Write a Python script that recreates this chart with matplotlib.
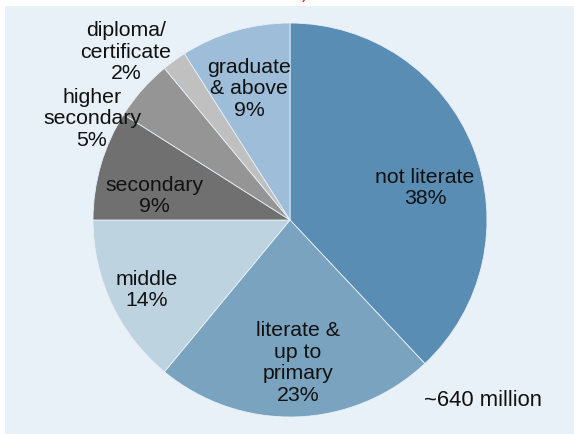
import matplotlib.pyplot as plt
from matplotlib.patches import Rectangle

plt.rcParams["font.family"] = ["Liberation Sans", "DejaVu Sans"]

# education levels, clockwise from 12 o'clock
labels = [
    "not literate",
    "literate &\nup to\nprimary",
    "middle",
    "secondary",
    "higher\nsecondary",
    "diploma/\ncertificate",
    "graduate\n& above",
]
shares = [38, 23, 14, 9, 5, 2, 9]
colors = ["#5a8db4", "#7aa3bf", "#bed3e0", "#707070", "#959595", "#c0c0c0", "#9dbdd8"]

# label centres in pixels (x, y from top)
label_px = [(425, 188), (298, 363), (147, 290), (154, 196), (92, 119), (126, 52), (249, 89)]

W, H = 574, 435
cx, cy, r = 290, 221, 197

fig = plt.figure(figsize=(W / 100, H / 100), dpi=100)
fig.patch.set_facecolor("white")
fig.patches.append(Rectangle((5 / W, 0), 1 - 5 / W, (H - 7) / H,
                             transform=fig.transFigure, facecolor="#e8f0f8",
                             edgecolor="none", zorder=-5))

ax = fig.add_axes([(cx - r) / W, (H - cy - r) / H, 2 * r / W, 2 * r / H])
ax.set_facecolor("none")
ax.pie(shares, colors=colors, startangle=90, counterclock=False, radius=1,
       wedgeprops=dict(edgecolor="#e8f0f8", linewidth=0.6))
ax.set_xlim(-1, 1)
ax.set_ylim(-1, 1)
ax.set_aspect("equal")
ax.axis("off")

for lab, val, (px, py) in zip(labels, shares, label_px):
    ax.text((px - cx) / r, (cy - py) / r, f"{lab}\n{val}%", ha="center", va="center",
            fontsize=15.3, linespacing=1.17, color="#111111")

fig.text(424 / W, (H - 401) / H, "~640 million", ha="left", va="center",
         fontsize=15.8, color="#111111")
fig.text(305 / W, (H + 6) / H, ")", ha="center", va="center", fontsize=12, color="red")

fig.savefig("out.png", dpi=100)
